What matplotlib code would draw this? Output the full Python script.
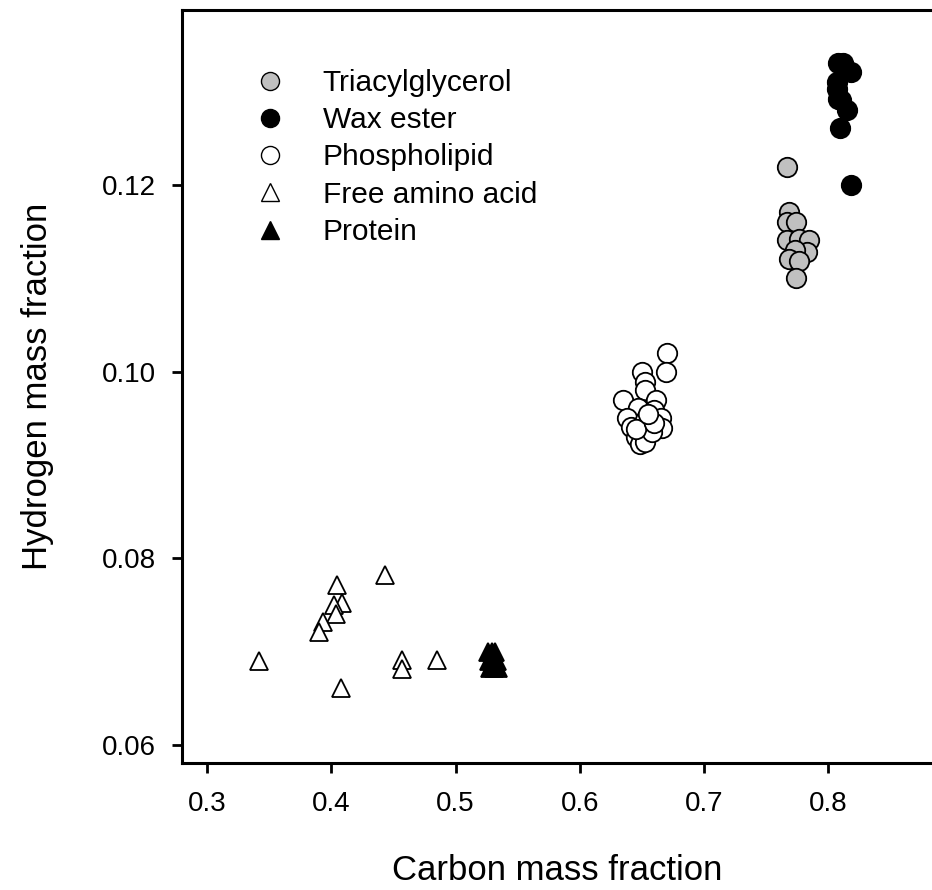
import matplotlib
matplotlib.use("Agg")
import matplotlib.pyplot as plt
from matplotlib.lines import Line2D

plt.rcParams['font.family'] = ['Liberation Sans', 'DejaVu Sans']

tag_x = [0.767, 0.768, 0.767, 0.774, 0.767, 0.776, 0.784, 0.783, 0.773, 0.768, 0.776, 0.774]
tag_y = [0.1219, 0.1171, 0.1160, 0.1160, 0.1141, 0.1142, 0.1141, 0.1128, 0.1130, 0.1120, 0.1118, 0.1100]

wax_x = [0.808, 0.812, 0.818, 0.807, 0.807, 0.808, 0.810, 0.815, 0.809, 0.818]
wax_y = [0.1330, 0.1330, 0.1321, 0.1310, 0.1302, 0.1292, 0.1291, 0.1280, 0.1261, 0.1200]

pl_x = [0.670, 0.669, 0.650, 0.652, 0.652, 0.635, 0.661, 0.647, 0.660, 0.638, 0.665,
        0.641, 0.661, 0.666, 0.652, 0.645, 0.648, 0.652, 0.658, 0.645, 0.660, 0.655]
pl_y = [0.1020, 0.1000, 0.1000, 0.0989, 0.0980, 0.0970, 0.0970, 0.0961, 0.0959, 0.0950, 0.0950,
        0.0941, 0.0941, 0.0940, 0.0948, 0.0930, 0.0922, 0.0925, 0.0935, 0.0938, 0.0945, 0.0955]

faa_x = [0.443, 0.405, 0.409, 0.402, 0.404, 0.393, 0.390, 0.457, 0.457, 0.485, 0.408, 0.342]
faa_y = [0.0782, 0.0771, 0.0752, 0.0750, 0.0741, 0.0732, 0.0721, 0.0691, 0.0682, 0.0691, 0.0661, 0.0690]

prot_x = [0.526, 0.529, 0.532, 0.527, 0.530, 0.533, 0.528, 0.531, 0.534]
prot_y = [0.0700, 0.0700, 0.0700, 0.0690, 0.0690, 0.0690, 0.0683, 0.0683, 0.0683]

labels = ["Triacylglycerol", "Wax ester", "Phospholipid", "Free amino acid", "Protein"]
x_ticks = [0.3, 0.4, 0.5, 0.6, 0.7, 0.8]
y_ticks = [0.06, 0.08, 0.10, 0.12]

fig = plt.figure(figsize=(9.32, 8.9), dpi=100)
ax = fig.add_axes([182/932, 127/890, 1 - 182/932, (763-10)/890])

ms = 14
mew = 1.3
ax.plot(pl_x, pl_y, 'o', ms=ms, mfc='white', mec='black', mew=mew, ls='none')
ax.plot(tag_x, tag_y, 'o', ms=ms, mfc='#c0c0c0', mec='black', mew=mew, ls='none')
ax.plot(wax_x, wax_y, 'o', ms=ms, mfc='black', mec='black', mew=mew, ls='none')
ax.plot(faa_x, faa_y, '^', ms=13, mfc='white', mec='black', mew=mew, ls='none')
ax.plot(prot_x, prot_y, '^', ms=13, mfc='black', mec='black', mew=mew, ls='none')

ax.set_xlim(0.2799, 0.2799 + (932 - 182) / 1243)
ax.set_ylim(0.0581, 0.1387)
ax.set_xticks(x_ticks)
ax.set_xticklabels([f"{v:.1f}" for v in x_ticks])
ax.set_yticks(y_ticks)
ax.set_yticklabels([f"{v:.2f}" for v in y_ticks])

for s in ['left', 'bottom', 'top']:
    ax.spines[s].set_linewidth(2.2)
ax.spines['right'].set_visible(False)
ax.tick_params(direction='out', length=7.5, width=2, labelsize=20)
ax.tick_params(axis='x', pad=13)
ax.tick_params(axis='y', pad=11)

ax.set_xlabel("Carbon mass fraction", fontsize=25, labelpad=26)
ax.set_ylabel("Hydrogen mass fraction", fontsize=25, labelpad=35)

handles = [
    Line2D([], [], marker='o', ls='none', ms=13, mfc='#c0c0c0', mec='black', mew=1),
    Line2D([], [], marker='o', ls='none', ms=13, mfc='black', mec='black', mew=1),
    Line2D([], [], marker='o', ls='none', ms=13, mfc='white', mec='black', mew=1),
    Line2D([], [], marker='^', ls='none', ms=13, mfc='white', mec='black', mew=1),
    Line2D([], [], marker='^', ls='none', ms=13, mfc='black', mec='black', mew=1),
]
ax.legend(handles, labels, loc='upper left', bbox_to_anchor=(0.0973, 0.9217), frameon=False,
          fontsize=21.5, handletextpad=1.27, labelspacing=0.31, handlelength=1.0,
          borderpad=0, borderaxespad=0)

fig.savefig("out.png", dpi=100)
